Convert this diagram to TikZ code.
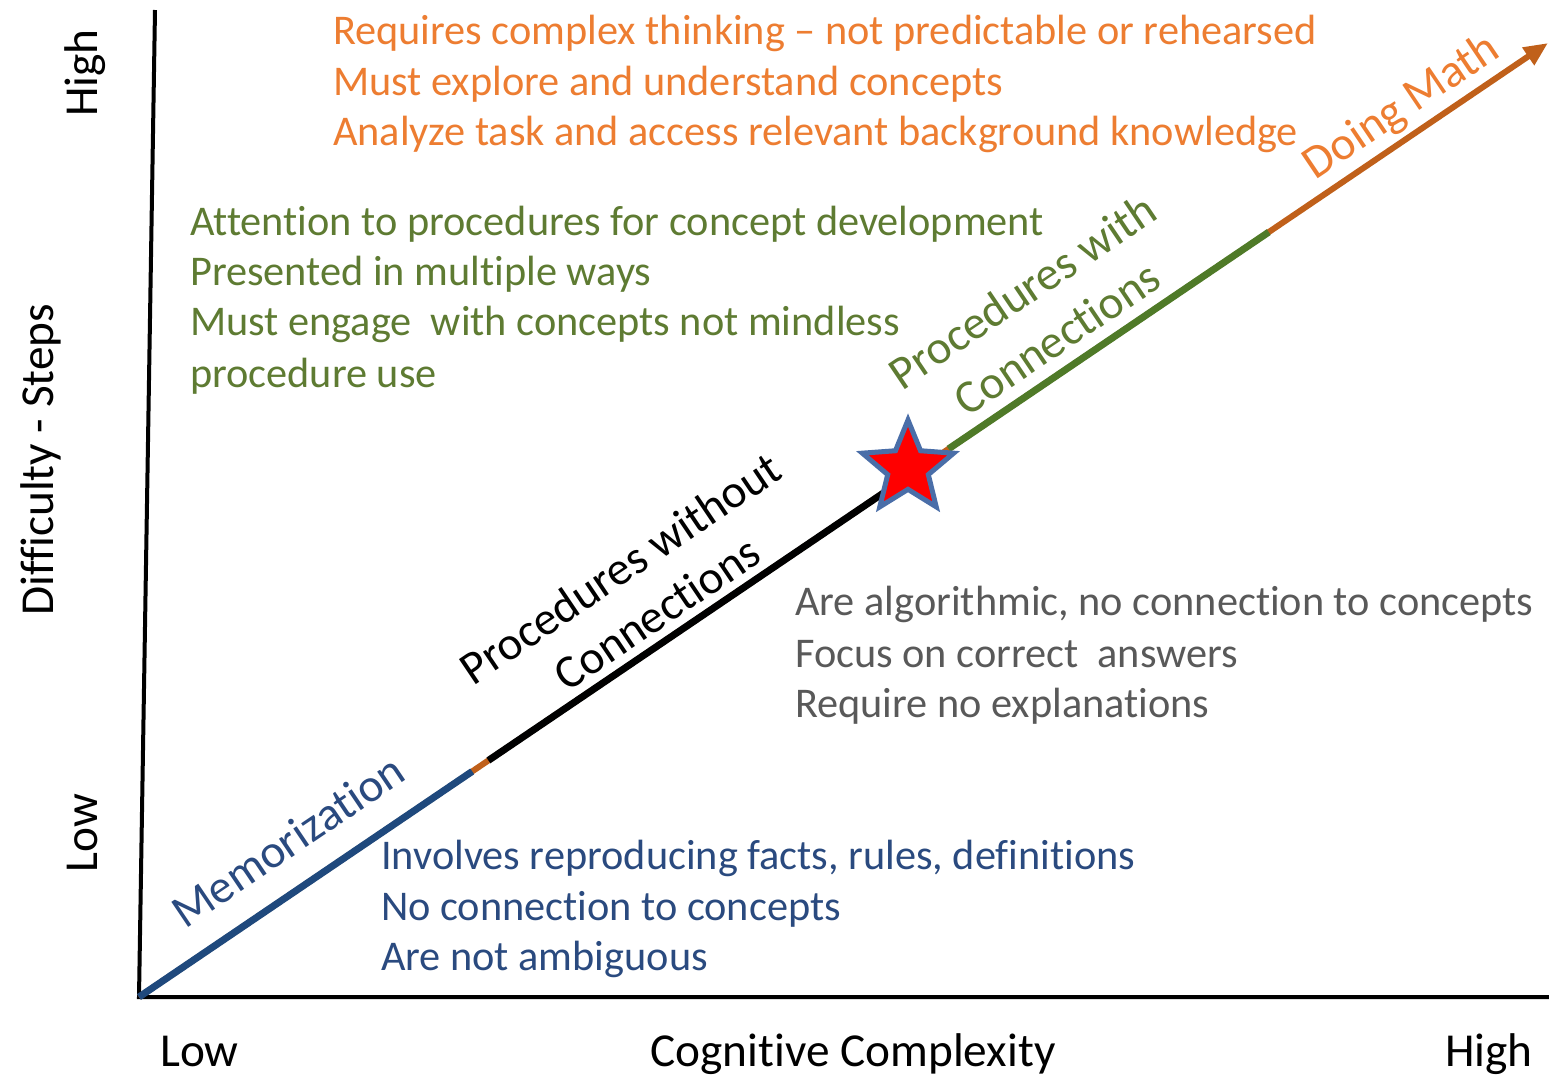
\documentclass[tikz,border=0pt]{standalone}
\usepackage{fontspec}
\setmainfont{Carlito}[Ligatures=NoCommon]
\usetikzlibrary{arrows.meta,shapes.geometric,calc}
\definecolor{orT}{HTML}{ED7D31}
\definecolor{arr}{HTML}{C0601A}
\definecolor{grT}{HTML}{5E7B32}
\definecolor{grL}{HTML}{4F7A28}
\definecolor{blT}{HTML}{2A4A7F}
\definecolor{blL}{HTML}{1F497D}
\definecolor{gyT}{HTML}{595959}
\definecolor{stB}{HTML}{4A6EA8}
\begin{document}
\begin{tikzpicture}[x=1pt,y=-1pt,
  body/.style={anchor=base west,inner sep=0pt,font=\fontsize{42.3}{42}\selectfont},
  axlab/.style={inner sep=0pt,font=\fontsize{47.3}{47}\selectfont},
  diag/.style={inner sep=0pt,rotate=34,font=\fontsize{47}{47}\selectfont},
  axisline/.style={line width=4pt,black},
  seg/.style={line width=7pt}]
\useasboundingbox (0,0) rectangle (1549,1077);
\fill[white] (0,0) rectangle (1549,1077);
% axes
\coordinate (O) at (139,997);
\coordinate (Ytop) at (155,10);
\coordinate (Xend) at (1549,997);
\coordinate (A) at (1548,43);
\draw[axisline] (Ytop) -- (O) -- (Xend);
% main arrow
\draw[arr,line width=6pt,-{Triangle[length=24pt,width=20pt]}] (O) -- (A);
\draw[seg,blL] (O) -- ($(O)!0.2365!(A)$);
\draw[seg,black] ($(O)!0.248!(A)$) -- ($(O)!0.53!(A)$);
\draw[seg,grL] ($(O)!0.5746!(A)$) -- ($(O)!0.8018!(A)$);
% star
\node[star,star points=5,star point ratio=2.25,minimum size=96pt,inner sep=0pt,
  fill=red,draw=stB,line width=5pt] (star) at (908,468) {};
% rotated labels
\node[diag,blT] (mem) at (288,841) {Memorization};
\node[diag,black] (pwo1) at (620,568) {Procedures without};
\node[diag,black] (pwo2) at (657,613) {Connections};
\node[diag,grT] (pw1) at (1022,291) {Procedures with};
\node[diag,grT] (pw2) at (1057,338) {Connections};
\node[diag,orT] (dm) at (1402,108) {Doing Math};
% orange block
\node[body,orT] (o1) at (333,44) {Requires complex thinking – not predictable or rehearsed};
\node[body,orT] (o2) at (333,95) {Must explore and understand concepts};
\node[body,orT] (o3) at (333,145) {Analyze task and access relevant background knowledge};
% green block
\node[body,grT] (g1) at (190,235) {Attention to procedures for concept development};
\node[body,grT] (g2) at (190,285) {Presented in multiple ways};
\node[body,grT] (g3) at (190,335) {Must engage\ \ with concepts not mindless};
\node[body,grT] (g4) at (190,387) {procedure use};
% gray block
\node[body,gyT] (a1) at (795,615) {Are algorithmic, no connection to concepts};
\node[body,gyT] (a2) at (795,667) {Focus on correct\ \ answers};
\node[body,gyT] (a3) at (795,717) {Require no explanations};
% blue block
\node[body,blT] (b1) at (381,869) {Involves reproducing facts, rules, definitions};
\node[body,blT] (b2) at (381,920) {No connection to concepts};
\node[body,blT] (b3) at (381,970) {Are not ambiguous};
% axis labels
\node[axlab,anchor=base west] (xl) at (160,1066) {Low};
\node[axlab,anchor=base] (xc) at (853,1066) {Cognitive Complexity};
\node[axlab,anchor=base east] (xh) at (1533,1066) {High};
\node[axlab,rotate=90,anchor=base] (yh) at (97,73) {High};
\node[axlab,rotate=90,anchor=base] (yc) at (53,460) {Difficulty - Steps};
\node[axlab,rotate=90,anchor=base] (yl) at (97,833) {Low};
\end{tikzpicture}
\end{document}
